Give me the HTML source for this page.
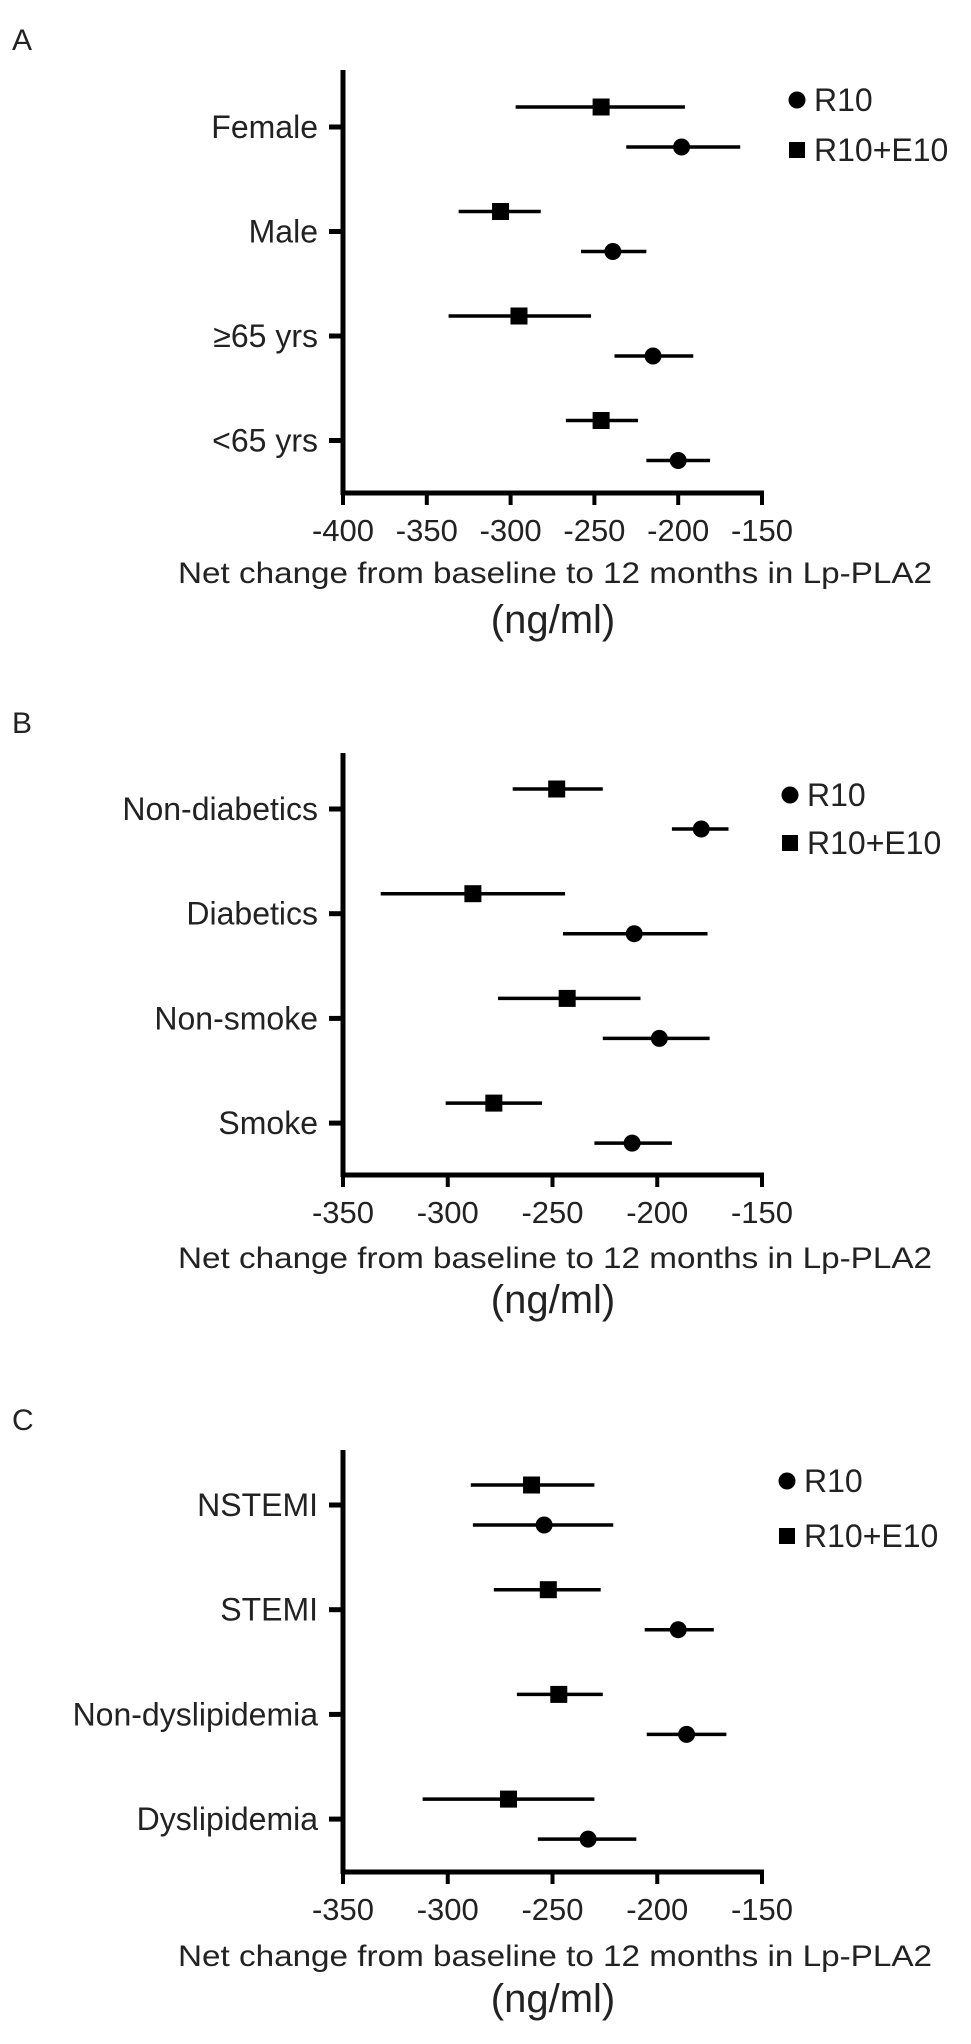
<!DOCTYPE html>
<html><head><meta charset="utf-8">
<style>
html,body{margin:0;padding:0;background:#fff;}
svg{display:block;font-family:"Liberation Sans",Arial,sans-serif;}
</style></head>
<body>
<svg id="fig" width="971" height="2044" viewBox="0 0 971 2044"></svg>
<script>
// Panel A data
const catsA = ["Female", "Male", "\u226565 yrs", "<65 yrs"];
const r10A = [-198, -239, -215, -200];
const r10LoA = [-231, -258, -238, -219];
const r10HiA = [-163, -219, -191, -181];
const comboA = [-246, -306, -295, -246];
const comboLoA = [-297, -331, -337, -267];
const comboHiA = [-196, -282, -252, -224];
const ticksA = [-400, -350, -300, -250, -200, -150];

// Panel B data
const catsB = ["Non-diabetics", "Diabetics", "Non-smoke", "Smoke"];
const r10B = [-179, -211, -199, -212];
const r10LoB = [-193, -245, -226, -230];
const r10HiB = [-166, -176, -175, -193];
const comboB = [-248, -288, -243, -278];
const comboLoB = [-269, -332, -276, -301];
const comboHiB = [-226, -244, -208, -255];
const ticksB = [-350, -300, -250, -200, -150];

// Panel C data
const catsC = ["NSTEMI", "STEMI", "Non-dyslipidemia", "Dyslipidemia"];
const r10C = [-254, -190, -186, -233];
const r10LoC = [-288, -206, -205, -257];
const r10HiC = [-221, -173, -167, -210];
const comboC = [-260, -252, -247, -271];
const comboLoC = [-289, -278, -267, -312];
const comboHiC = [-230, -227, -226, -230];
const ticksC = [-350, -300, -250, -200, -150];

const NS = "http://www.w3.org/2000/svg";
const svg = document.getElementById("fig");
function mk(tag, attrs, parent) {
  const e = document.createElementNS(NS, tag);
  for (const k in attrs) e.setAttribute(k, attrs[k]);
  (parent || svg).appendChild(e);
  return e;
}

function panel(opt) {
  const g = mk("g", {});
  
  
  const x0 = 343, x1 = 762;
  const vmin = opt.ticks[0], vmax = opt.ticks[opt.ticks.length - 1];
  const xs = v => x0 + (v - vmin) / (vmax - vmin) * (x1 - x0);
  const ys = i => opt.firstTick + i * opt.rowGap;

  const letter = mk("text", {x: 12, y: opt.top - 20, "font-size": 30, fill: "#222"}, g);
  letter.textContent = opt.letter;
  
  

  const yax = mk("line", {x1: x0, y1: opt.top, x2: x0, y2: opt.bottom + 2, stroke: "#000", "stroke-width": 5}, g);
  
  
  const xax = mk("line", {x1: x0 - 2, y1: opt.bottom, x2: x1 + 2, y2: opt.bottom, stroke: "#000", "stroke-width": 5}, g);
  
  

  opt.ticks.forEach(t => {
    const tk = mk("line", {x1: xs(t), y1: opt.bottom, x2: xs(t), y2: opt.bottom + 12, stroke: "#000", "stroke-width": 4}, g);
    
    
    const tl = mk("text", {x: xs(t), y: opt.bottom + 48, "font-size": 31, "text-anchor": "middle", fill: "#222"}, g);
    tl.textContent = String(t);
    
    
  });

  opt.cats.forEach((c, i) => {
    const y = ys(i);
    const tk = mk("line", {x1: 329, y1: y, x2: x0, y2: y, stroke: "#000", "stroke-width": 5}, g);
    
    
    const tl = mk("text", {x: 318, y: y + 11, "font-size": 32, "text-anchor": "end", fill: "#222"}, g);
    tl.textContent = c;
    
    

    const ys2 = y - 20;
    const eb2 = mk("line", {x1: xs(opt.comboLo[i]), y1: ys2, x2: xs(opt.comboHi[i]), y2: ys2, stroke: "#000", "stroke-width": 3.5}, g);
    
    
    const sq = mk("rect", {x: xs(opt.combo[i]) - 8.5, y: ys2 - 8.5, width: 17, height: 17, fill: "#000"}, g);
    
    

    const yc = y + 20;
    const eb1 = mk("line", {x1: xs(opt.r10Lo[i]), y1: yc, x2: xs(opt.r10Hi[i]), y2: yc, stroke: "#000", "stroke-width": 3.5}, g);
    
    
    const ci = mk("circle", {cx: xs(opt.r10[i]), cy: yc, r: 8.5, fill: "#000"}, g);
    
    
  });

  const lg = mk("g", {}, g);
  
  
  const lc = mk("circle", {cx: opt.legX, cy: opt.legY1, r: 8.5, fill: "#000"}, lg);
  
  
  const lt1 = mk("text", {x: opt.legX + 17, y: opt.legY1 + 11, "font-size": 32, fill: "#222"}, lg);
  lt1.textContent = "R10";
  
  
  const ls = mk("rect", {x: opt.legX - 8, y: opt.legY2 - 8, width: 16, height: 16, fill: "#000"}, lg);
  
  
  const lt2 = mk("text", {x: opt.legX + 17, y: opt.legY2 + 11, "font-size": 32, fill: "#222"}, lg);
  lt2.textContent = "R10+E10";
  
  

  const t1 = mk("text", {x: 555, y: opt.titleY, "font-size": 30, "text-anchor": "middle", fill: "#222", textLength: 754, lengthAdjust: "spacingAndGlyphs"}, g);
  t1.textContent = opt.title;
  
  
  const t2 = mk("text", {x: 553, y: opt.unitY, "font-size": 40, "text-anchor": "middle", fill: "#222"}, g);
  t2.textContent = "(ng/ml)";
  
  
}

panel({id: "a", letter: "A", cats: catsA, r10: r10A, r10Lo: r10LoA, r10Hi: r10HiA,
  combo: comboA, comboLo: comboLoA, comboHi: comboHiA, ticks: ticksA,
  top: 70, bottom: 493, firstTick: 127, rowGap: 104.5,
  legX: 797, legY1: 100, legY2: 150,
  title: "Net change from baseline to 12 months in Lp-PLA2", titleY: 583, unitY: 633});
panel({id: "b", letter: "B", cats: catsB, r10: r10B, r10Lo: r10LoB, r10Hi: r10HiB,
  combo: comboB, comboLo: comboLoB, comboHi: comboHiB, ticks: ticksB,
  top: 753, bottom: 1175, firstTick: 809, rowGap: 104.7,
  legX: 790, legY1: 795, legY2: 843,
  title: "Net change from baseline to 12 months in Lp-PLA2", titleY: 1268, unitY: 1313});
panel({id: "c", letter: "C", cats: catsC, r10: r10C, r10Lo: r10LoC, r10Hi: r10HiC,
  combo: comboC, comboLo: comboLoC, comboHi: comboHiC, ticks: ticksC,
  top: 1450, bottom: 1872, firstTick: 1505, rowGap: 104.7,
  legX: 787, legY1: 1481, legY2: 1536,
  title: "Net change from baseline to 12  months in Lp-PLA2", titleY: 1966, unitY: 2012});
</script>
</body></html>
